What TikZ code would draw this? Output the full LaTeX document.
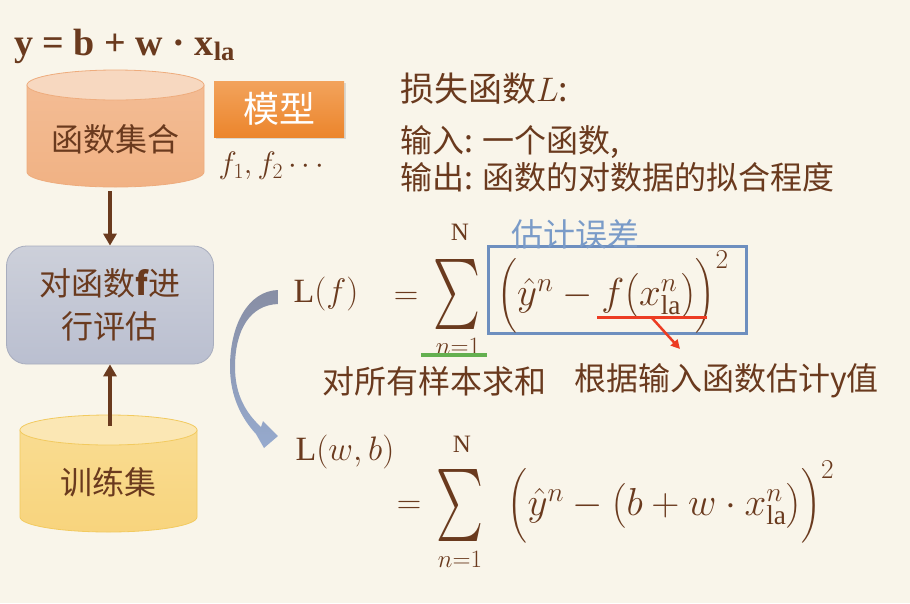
\RequirePackage{fix-cm}
\documentclass[tikz,border=0pt]{standalone}
\usepackage{amsmath}
\usepackage{graphicx}
\usepackage{fontspec}
\setmainfont{Liberation Serif}
\newfontfamily\cjk{Noto Sans CJK SC}
\usetikzlibrary{positioning,arrows.meta,shadows}

\definecolor{bgcol}{RGB}{249,245,234}
\definecolor{txt}{RGB}{106,58,30}
\definecolor{orgtop}{RGB}{247,216,192}
\definecolor{orgbody}{RGB}{243,188,148}
\definecolor{orgbot}{RGB}{241,178,132}
\definecolor{orgline}{RGB}{238,172,125}
\definecolor{yeltop}{RGB}{251,231,180}
\definecolor{yelbody}{RGB}{249,220,145}
\definecolor{yelbot}{RGB}{248,212,125}
\definecolor{yelline}{RGB}{242,202,95}
\definecolor{evaltop}{RGB}{205,208,218}
\definecolor{evalbot}{RGB}{186,191,208}
\definecolor{evalline}{RGB}{168,173,190}
\definecolor{modeltop}{RGB}{242,163,92}
\definecolor{modelbot}{RGB}{236,133,44}
\definecolor{boxblue}{RGB}{110,143,191}
\definecolor{lblblue}{RGB}{122,155,200}
\definecolor{redmark}{RGB}{236,60,35}
\definecolor{greenmark}{RGB}{100,176,80}
\definecolor{bendtop}{RGB}{136,142,164}
\definecolor{bendbot}{RGB}{150,170,206}

\tikzset{
  zh/.style={font=\cjk\fontsize{32}{38}\selectfont, text=txt, inner sep=0pt},
  mth/.style={font=\fontsize{34}{40}\selectfont, text=txt, inner sep=0pt},
  bigmth/.style={font=\fontsize{39}{36}\selectfont, text=txt, inner sep=0pt},
  small/.style={font=\fontsize{25}{28}\selectfont, text=txt, inner sep=0pt},
  brarrow/.style={draw=txt, line width=3.5pt, -{Triangle[length=12pt,width=13pt]}},
  evalbox/.style={rectangle, rounded corners=20pt, minimum width=207pt, minimum height=118pt,
    top color=evaltop, bottom color=evalbot, draw=evalline, line width=0.8pt,
    align=center, font=\cjk\fontsize{32}{43}\selectfont, text=txt},
  modelbox/.style={rectangle, minimum width=130pt, minimum height=56pt,
    top color=modeltop, bottom color=modelbot, text=white,
    font=\cjk\fontsize{36}{40}\selectfont,
    drop shadow={shadow xshift=2pt, shadow yshift=-2pt, opacity=0.25}},
  bigsum/.style={text=txt, inner sep=0pt},
}

\begin{document}
\begin{tikzpicture}[x=1pt,y=-1pt]
	\fill[bgcol] (0,0) rectangle (910,603);
	\useasboundingbox (0,0) rectangle (910,603);

	% model formula
	\node[text=txt, anchor=west, inner sep=0pt, font=\fontsize{38}{40}\selectfont\bfseries] (model eq) at (14,46) {y = b + w · x\textsubscript{la}};

	% function set cylinder
	\draw[orgline, line width=0.8pt, top color=orgbody, bottom color=orgbot] (27,85) -- (27,172) arc[start angle=180, end angle=0, x radius=88.5, y radius=15] -- (204,85) -- cycle;
	\filldraw[fill=orgtop, draw=orgline, line width=0.8pt] (115.5,85) ellipse [x radius=88.5, y radius=15];
	\node[zh] (funcset) at (115.5,139) {函数集合};
	\coordinate (c1bot) at (110,191);

	\node[modelbox] (model) at (279,109) {模型};
	\node[mth, font=\fontsize{31}{34}\selectfont] (flist) at (274,166) {$f_1, f_2 \cdots$};

	% evaluation box
	\node[evalbox] (eval) at (110,305) {对函数{\bfseries f}进\\行评估};

	% training set cylinder
	\draw[yelline, line width=0.8pt, top color=yelbody, bottom color=yelbot] (20,430) -- (20,517) arc[start angle=180, end angle=0, x radius=88.5, y radius=15] -- (197,430) -- cycle;
	\filldraw[fill=yeltop, draw=yelline, line width=0.8pt] (108.5,430) ellipse [x radius=88.5, y radius=15];
	\node[zh] (trainset) at (108.5,482) {训练集};
	\coordinate (c2top) at (110,426);

	\draw[brarrow] (c1bot) -- (eval);
	\draw[brarrow] (c2top) -- (eval);

	% bent arrow
	\path[top color=bendtop, bottom color=bendbot] (278,290) .. controls (248,291) and (230,325) .. (230,367)
		.. controls (230,398) and (243,420) .. (256,434) -- (264,448) -- (278,436) -- (263,421) -- (261,427)
		.. controls (246,413) and (235,395) .. (235,367) .. controls (235,330) and (250,305) .. (278,304) -- cycle;

	% loss function text
	\node[zh, anchor=west, font=\cjk\fontsize{34}{40}\selectfont] (losstitle) at (400,89) {损失函数$L$:};
	\node[zh, anchor=west] (inline) at (400,142) {输入: 一个函数,};
	\node[zh, anchor=west] (outline) at (400,177) {输出: 函数的对数据的拟合程度};

	% first formula
	\node[mth] (lf) at (326,294) {$\mathrm{L}(f)$};
	\node[mth] (eq1) at (406,298) {$=$};
	\node[bigsum] (sum1) at (457,294) {\resizebox*{47pt}{70pt}{$\sum$}};
	\node[small] (top1) at (460,232) {N};
	\node[small] (bot1) at (458,346) {$n{=}1$};
	\node[draw=boxblue, line width=3pt, minimum width=258pt, minimum height=87pt] (errbox) at (617,290) {};
	\node[zh, text=lblblue] (errlabel) at (575,234) {估计误差};
	\node[bigmth] (err1) at (613,292) {$\Bigl(\hat{y}^n - f\bigl(x^n_{\mathrm{la}}\bigr)\Bigr)^{2}$};

	\coordinate (red1) at (597,317);
	\coordinate (red2) at (707,317);
	\coordinate (redmid) at (652,318);
	\coordinate (redtip) at (680,349);
	\draw[redmark, line width=3pt] (red1) -- (red2);
	\draw[redmark, line width=2.5pt, -{Triangle[length=9pt,width=9pt]}] (redmid) -- (redtip);
	\coordinate (green1) at (421,355);
	\coordinate (green2) at (487,355);
	\draw[greenmark, line width=4pt] (green1) -- (green2);

	\node[zh, anchor=west] (sumhint) at (322,381) {对所有样本求和};
	\node[zh, anchor=west] (fhint) at (574,381) {根据输入函数估计y值};

	% second formula
	\node[mth] (lwb) at (345,452) {$\mathrm{L}(w,b)$};
	\node[mth] (eq2) at (409,507) {$=$};
	\node[bigsum] (sum2) at (460,505) {\resizebox*{47pt}{72pt}{$\sum$}};
	\node[small] (top2) at (462,444) {N};
	\node[small] (bot2) at (460,559) {$n{=}1$};
	\node[bigmth] (err2) at (671,502) {$\Bigl(\hat{y}^n - \bigl(b + w \cdot x^n_{\mathrm{la}}\bigr)\Bigr)^{2}$};
\end{tikzpicture}
\end{document}
